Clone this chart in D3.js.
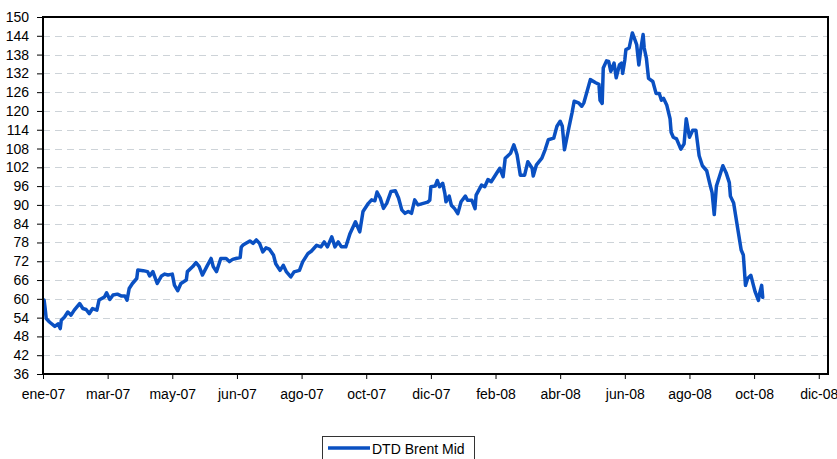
<!DOCTYPE html>
<html>
<head>
<meta charset="utf-8">
<script src="https://cdn.jsdelivr.net/npm/d3@7"></script>
<style>
  html, body { margin: 0; padding: 0; background: #fff; }
  svg { display: block; }
  text { font-family: "Liberation Sans", Arial, sans-serif; }
</style>
</head>
<body>
<svg id="chart" width="837" height="459"></svg>
<script>
// ---- Data ----
const seriesName = "DTD Brent Mid";

const dates = [
  "2007-01-02","2007-01-03","2007-01-04","2007-01-07","2007-01-12","2007-01-15","2007-01-17","2007-01-18",
  "2007-01-21","2007-01-24","2007-01-27","2007-01-30","2007-02-04","2007-02-07","2007-02-10","2007-02-13",
  "2007-02-16","2007-02-20","2007-02-22","2007-02-27","2007-03-01","2007-03-04","2007-03-07","2007-03-11",
  "2007-03-15","2007-03-18","2007-03-20","2007-03-22","2007-03-25","2007-03-29","2007-03-30","2007-04-04",
  "2007-04-08","2007-04-10","2007-04-13","2007-04-17","2007-04-21","2007-04-24","2007-04-27","2007-05-01",
  "2007-05-03","2007-05-06","2007-05-09","2007-05-14","2007-05-15","2007-05-20","2007-05-23","2007-05-26",
  "2007-05-29","2007-06-02","2007-06-06","2007-06-08","2007-06-11","2007-06-15","2007-06-20","2007-06-23",
  "2007-06-26","2007-06-29","2007-07-03","2007-07-04","2007-07-06","2007-07-12","2007-07-15","2007-07-18",
  "2007-07-21","2007-07-24","2007-07-27","2007-07-30","2007-08-03","2007-08-05","2007-08-09","2007-08-12",
  "2007-08-15","2007-08-19","2007-08-22","2007-08-27","2007-08-30","2007-09-04","2007-09-07","2007-09-12",
  "2007-09-16","2007-09-19","2007-09-22","2007-09-26","2007-09-29","2007-10-02","2007-10-05","2007-10-09",
  "2007-10-13","2007-10-18","2007-10-22","2007-10-25","2007-10-30","2007-11-02","2007-11-05","2007-11-07",
  "2007-11-10","2007-11-13","2007-11-16","2007-11-20","2007-11-24","2007-11-27","2007-11-30","2007-12-03",
  "2007-12-06","2007-12-09","2007-12-12","2007-12-15","2007-12-20","2007-12-24","2007-12-26","2007-12-27",
  "2007-12-31","2008-01-02","2008-01-04","2008-01-07","2008-01-09","2008-01-10","2008-01-13","2008-01-15",
  "2008-01-18","2008-01-21","2008-01-24","2008-01-28","2008-01-30","2008-02-03","2008-02-06","2008-02-07",
  "2008-02-12","2008-02-15","2008-02-18","2008-02-21","2008-02-26","2008-02-29","2008-03-03","2008-03-05",
  "2008-03-10","2008-03-13","2008-03-16","2008-03-19","2008-03-23","2008-03-26","2008-03-30","2008-03-31",
  "2008-04-03","2008-04-08","2008-04-11","2008-04-14","2008-04-19","2008-04-22","2008-04-25","2008-04-27",
  "2008-04-29","2008-05-03","2008-05-06","2008-05-08","2008-05-12","2008-05-15","2008-05-17","2008-05-20",
  "2008-05-23","2008-05-28","2008-05-31","2008-06-01","2008-06-03","2008-06-04","2008-06-07","2008-06-09",
  "2008-06-11","2008-06-14","2008-06-16","2008-06-19","2008-06-21","2008-06-22","2008-06-24","2008-06-25",
  "2008-06-28","2008-07-01","2008-07-03","2008-07-05","2008-07-07","2008-07-09","2008-07-11","2008-07-12",
  "2008-07-14","2008-07-16","2008-07-20","2008-07-23","2008-07-26","2008-07-28","2008-07-30","2008-08-02",
  "2008-08-05","2008-08-06","2008-08-08","2008-08-11","2008-08-15","2008-08-18","2008-08-20","2008-08-23",
  "2008-08-26","2008-08-29","2008-09-01","2008-09-04","2008-09-08","2008-09-11","2008-09-13","2008-09-15",
  "2008-09-17","2008-09-20","2008-09-23","2008-09-26","2008-09-29","2008-09-30","2008-10-03","2008-10-05",
  "2008-10-07","2008-10-10","2008-10-12","2008-10-14","2008-10-16","2008-10-19","2008-10-21","2008-10-23",
  "2008-10-26","2008-10-27","2008-10-29","2008-10-30"
];

const values = [
  59.6,56.9,53.7,52.6,51.2,52.0,50.5,53.2,
  54.2,55.8,54.8,56.4,58.5,56.9,56.6,55.3,
  56.9,56.4,59.6,60.6,61.9,59.8,61.2,61.5,
  60.9,60.9,59.6,63.3,64.9,66.5,69.2,69.0,
  68.7,67.3,68.7,64.9,67.3,67.9,67.6,67.9,
  64.4,62.6,64.9,66.0,68.7,70.3,71.6,70.3,
  67.6,70.3,72.9,70.3,68.7,72.9,72.9,71.9,
  72.6,72.9,73.2,76.5,77.3,78.5,77.7,78.8,
  77.7,75.0,76.3,75.9,73.9,71.2,69.1,70.7,
  68.6,67.0,68.6,69.1,71.8,74.5,75.2,77.1,
  76.6,78.2,76.6,79.8,76.6,78.2,76.6,76.6,
  80.9,84.6,81.4,87.9,90.5,91.6,91.3,94.1,
  92.2,88.9,90.5,94.3,94.5,92.2,88.4,87.3,
  87.9,87.3,91.6,90.0,90.5,90.9,91.5,95.8,
  96.0,97.8,95.8,96.9,93.6,91.0,92.8,89.9,
  88.8,87.2,91.0,92.8,91.5,91.5,88.8,93.1,
  96.3,95.8,98.1,97.4,100.1,101.7,99.0,104.9,
  106.5,109.2,106.0,99.5,99.5,103.8,101.7,99.2,
  102.8,104.9,107.6,110.8,111.3,115.1,116.7,115.1,
  107.6,114.5,119.4,123.1,122.6,121.5,122.6,126.3,
  130.0,129.0,128.5,123.4,122.4,133.7,136.0,135.8,
  132.6,135.3,130.6,134.7,135.3,132.0,136.3,139.6,
  140.1,144.9,143.1,141.2,134.7,140.1,144.4,140.1,
  136.9,130.4,129.4,125.6,125.6,123.4,124.0,121.8,
  117.5,113.2,111.6,111.1,107.8,109.5,117.5,111.6,
  113.8,113.8,105.7,102.5,100.9,96.6,93.9,86.9,
  96.0,99.2,102.5,100.3,97.1,92.8,90.6,86.3,
  82.0,75.6,74.0,64.3,66.5,67.5,64.8,62.2,
  59.5,61.6,64.3,60.5
];

const xTickDates = ["2007-01-01","2007-03-02","2007-05-01","2007-06-30","2007-08-29","2007-10-28",
  "2007-12-27","2008-02-25","2008-04-25","2008-06-24","2008-08-23","2008-10-22","2008-12-21"];
const xTickLabels = ["ene-07","mar-07","may-07","jun-07","ago-07","oct-07","dic-07",
  "feb-08","abr-08","jun-08","ago-08","oct-08","dic-08"];
const yTicks = [36,42,48,54,60,66,72,78,84,90,96,102,108,114,120,126,132,138,144,150];
const xDomain = ["2007-01-01","2008-12-29T14:00"];
const yDomain = [36, 150];

(function () {
  // ---- Layout ----
  const svg = d3.select("#chart");
  const pLeft = 43, pTop = 17, pRight = 828, pBottom = 374;
  const parse = s => new Date(s + (s.length === 10 ? "T00:00:00Z" : ":00Z"));

  const x = d3.scaleUtc().domain(xDomain.map(parse)).range([pLeft, pRight]);
  const y = d3.scaleLinear().domain(yDomain).range([pBottom, pTop]);

  const data = dates.map((d, i) => ({ date: parse(d), value: values[i] }));
  const font = "'Liberation Sans', Arial, sans-serif";

  // Gridlines
  svg.append("g")
    .selectAll("line")
    .data(yTicks.filter(t => t > yDomain[0] && t < yDomain[1]))
    .join("line")
    .attr("x1", pLeft).attr("x2", pRight)
    .attr("y1", d => Math.round(y(d)) + 0.5).attr("y2", d => Math.round(y(d)) + 0.5)
    .attr("stroke", "#cdd3d8")
    .attr("stroke-width", 1)
    .attr("stroke-dasharray", "7,5");

  // Y axis
  const yAxis = d3.axisLeft(y).tickValues(yTicks).tickSize(6).tickPadding(8).tickFormat(d3.format("d"));
  const gy = svg.append("g").attr("transform", `translate(${pLeft},0)`).call(yAxis);
  gy.select(".domain").remove();
  gy.selectAll(".tick line").attr("stroke", "#000");
  gy.selectAll(".tick text").attr("font-size", 14).attr("fill", "#000").attr("font-family", font);

  // X axis
  const xTickVals = xTickDates.map(parse);
  const xAxis = d3.axisBottom(x).tickValues(xTickVals).tickSize(5).tickPadding(10)
    .tickFormat((d, i) => xTickLabels[i]);
  const gx = svg.append("g").attr("transform", `translate(0,${pBottom})`).call(xAxis);
  gx.select(".domain").remove();
  gx.selectAll(".tick line").attr("stroke", "#000");
  gx.selectAll(".tick text").attr("font-size", 14).attr("fill", "#000").attr("font-family", font);

  // Line
  const line = d3.line().x(d => x(d.date)).y(d => y(d.value)).curve(d3.curveLinear);
  svg.append("path")
    .datum(data)
    .attr("d", line)
    .attr("fill", "none")
    .attr("stroke", "#0a50c2")
    .attr("stroke-width", 3.5)
    .attr("stroke-linejoin", "round")
    .attr("stroke-linecap", "round");

  // Frame
  svg.append("rect")
    .attr("x", pLeft).attr("y", pTop)
    .attr("width", pRight - pLeft).attr("height", pBottom - pTop)
    .attr("fill", "none").attr("stroke", "#000").attr("stroke-width", 2);

  // Legend
  const lg = svg.append("g");
  lg.append("rect").attr("x", 322.5).attr("y", 436.5).attr("width", 152).attr("height", 30)
    .attr("fill", "#fff").attr("stroke", "#333").attr("stroke-width", 1);
  lg.append("line").attr("x1", 328).attr("x2", 370).attr("y1", 448).attr("y2", 448)
    .attr("stroke", "#0a50c2").attr("stroke-width", 3.5);
  lg.append("text").attr("x", 372).attr("y", 454).attr("font-size", 14).attr("fill", "#000")
    .attr("font-family", font).text(seriesName);
})();
</script>
</body>
</html>
